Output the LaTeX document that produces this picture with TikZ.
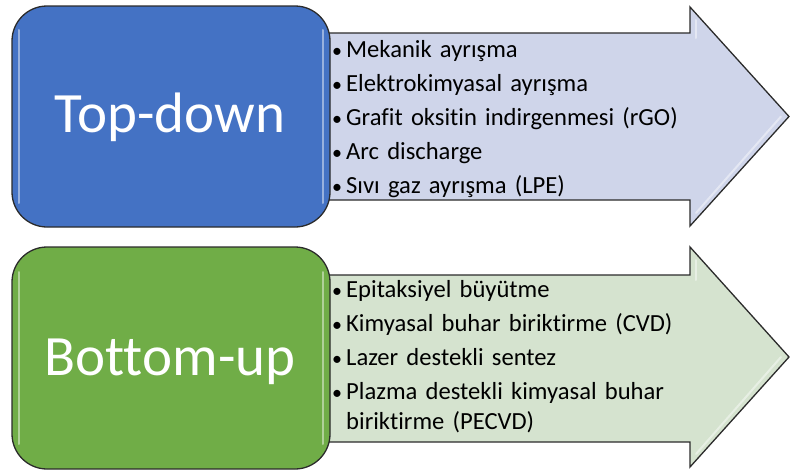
\documentclass[tikz,border=0pt]{standalone}
\usepackage{fontspec}
\setmainfont{Carlito}[Ligatures=NoCommon]
\definecolor{tdblue}{HTML}{4472C4}
\definecolor{bugreen}{HTML}{70AD47}
\definecolor{tdlight}{HTML}{CFD5EA}
\definecolor{bulight}{HTML}{D5E3CF}
\definecolor{edge}{HTML}{2B2B2B}
\newcommand{\bul}{\makebox[14pt][l]{\fontsize{20}{20}\selectfont•}}
\begin{document}
\begin{tikzpicture}[x=1pt,y=-1pt,
  bigbox/.style={draw=edge, line width=1.3pt, rounded corners=35pt, inner sep=0pt,
     minimum width=318pt},
  arrowshape/.style={draw=edge, line width=1.3pt, line join=miter},
  listtext/.style={anchor=base west, inner sep=0pt, text width=440pt, align=left,
     font=\fontsize{24.6}{30}\selectfont},
  hilite/.style={draw=white, opacity=0.45, line width=2pt, line cap=round}]
\useasboundingbox (0,0) rectangle (790,471);
% arrows
\draw[arrowshape, fill=tdlight] (328,33) -- (690,33) -- (690,7) -- (789,116.5) -- (690,226) -- (690,200) -- (328,200) -- cycle;
\draw[hilite] (696,20) -- (696,38);
\draw[hilite] (696,213) -- (781,116.5);
\draw[arrowshape, fill=bulight] (328,275) -- (690,275) -- (690,247) -- (789,357) -- (690,467) -- (690,442) -- (328,442) -- cycle;
\draw[hilite] (696,260) -- (696,280);
\draw[hilite] (696,454) -- (781,357);
% boxes
\node[bigbox, fill=tdblue, minimum height=221pt] (td) at (171,116.5) {};
\draw[hilite] (19,30) -- (19,203);
\draw[hilite] (323,30) -- (323,203);
\node[text=white, inner sep=0pt, anchor=base, font=\fontsize{57}{60}\selectfont] (tdl) at (170,132) {Top-down};
\node[bigbox, fill=bugreen, minimum height=222pt] (bu) at (171,358) {};
\draw[hilite] (19,272) -- (19,444);
\draw[hilite] (323,272) -- (323,444);
\node[text=white, inner sep=0pt, anchor=base, font=\fontsize{57}{60}\selectfont] (bul) at (170,375) {Bottom-up};
% lists
\node[listtext] (tdlist) at (332,57) {%
\bul Mekanik ayrışma\\[4pt]
\bul Elektrokimyasal ayrışma\\[4pt]
\bul Grafit oksitin indirgenmesi (rGO)\\[4pt]
\bul Arc discharge\\[4pt]
\bul Sıvı gaz ayrışma (LPE)};
\node[listtext] (bulist) at (332,297) {%
\bul Epitaksiyel büyütme\\[4pt]
\bul Kimyasal buhar biriktirme (CVD)\\[4pt]
\bul Lazer destekli sentez\\[4pt]
\bul Plazma destekli kimyasal buhar\\
\hspace*{14pt}biriktirme (PECVD)};
\end{tikzpicture}
\end{document}
